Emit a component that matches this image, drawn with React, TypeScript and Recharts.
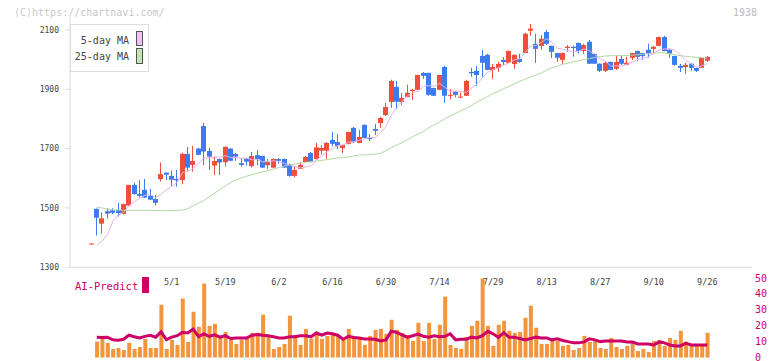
import { ComposedChart, Bar, Line, XAxis, YAxis } from "recharts"

// trading days shown on the chart
const dates = [
  "4/9", "4/10", "4/11", "4/14", "4/15", "4/16", "4/17", "4/18", "4/21", "4/22", "4/23", "4/24", "4/25", "4/28", "4/30",
  "5/1", "5/2", "5/7", "5/8", "5/9", "5/12", "5/13", "5/14", "5/15", "5/16", "5/19", "5/20", "5/21", "5/22", "5/23",
  "5/26", "5/27", "5/28", "5/29", "5/30",
  "6/2", "6/3", "6/4", "6/5", "6/6", "6/9", "6/10", "6/11", "6/12", "6/13", "6/16", "6/17", "6/18", "6/19", "6/20",
  "6/23", "6/24", "6/25", "6/26", "6/27", "6/30",
  "7/1", "7/2", "7/3", "7/4", "7/7", "7/8", "7/9", "7/10", "7/11", "7/14", "7/15", "7/16", "7/17", "7/18", "7/22",
  "7/23", "7/24", "7/25", "7/28", "7/29", "7/30", "7/31",
  "8/1", "8/4", "8/5", "8/6", "8/7", "8/8", "8/12", "8/13", "8/14", "8/15", "8/18", "8/19", "8/20", "8/21", "8/22",
  "8/25", "8/26", "8/27", "8/28", "8/29",
  "9/1", "9/2", "9/3", "9/4", "9/5", "9/8", "9/9", "9/10", "9/11", "9/12", "9/16", "9/17", "9/18", "9/19", "9/22",
  "9/24", "9/25", "9/26",
]

const tickDates = ["5/1", "5/19", "6/2", "6/16", "6/30", "7/14", "7/29", "8/13", "8/27", "9/10", "9/26"]
const priceTicks = [1300, 1500, 1700, 1900, 2100]
const gridTicks = [0, 1, 2, 3, 4, 5, 6, 7, 8, 9, 10, 11]
const predictTicks = [0, 10, 20, 30, 40, 50]

const opens = [
  1378, 1497, 1447, 1489, 1492, 1493, 1480, 1508, 1577, 1547, 1561, 1541, 1530, 1597, 1619, 1608, 1598, 1594, 1682, 1645,
  1700, 1776, 1692, 1643, 1665, 1654, 1700, 1682, 1651, 1665, 1641, 1678, 1675, 1644, 1636, 1665, 1665, 1648, 1608, 1632,
  1655, 1685, 1665, 1693, 1693, 1729, 1722, 1702, 1716, 1770, 1719, 1780, 1736, 1766, 1786, 1813, 1857, 1908, 1857, 1874,
  1894, 1898, 1955, 1955, 1904, 1898, 1975, 1878, 1891, 1873, 1878, 1958, 1962, 2012, 2016, 1965, 1972, 1999, 1989, 1985,
  2002, 2022, 2097, 2053, 2046, 2093, 2046, 2022, 1999, 2039, 2043, 2056, 2029, 2060, 2019, 1986, 1962, 1992, 1969, 2002,
  1982, 2006, 2029, 2022, 2033, 2036, 2046, 2076, 2033, 2012, 1979, 1975, 1986, 1972, 1972, 1996,
]
const highs = [
  1380, 1498, 1485, 1499, 1499, 1517, 1515, 1578, 1585, 1594, 1598, 1564, 1544, 1653, 1620, 1626, 1628, 1686, 1705, 1709,
  1703, 1786, 1703, 1673, 1666, 1707, 1701, 1686, 1666, 1668, 1689, 1695, 1676, 1665, 1666, 1668, 1666, 1650, 1641, 1654,
  1675, 1689, 1719, 1712, 1722, 1756, 1749, 1713, 1757, 1773, 1763, 1781, 1749, 1783, 1807, 1854, 1932, 1928, 1887, 1915,
  1901, 1949, 1958, 1956, 1905, 1949, 1979, 1901, 1894, 1888, 1932, 1972, 1979, 2033, 2019, 1985, 1992, 2009, 2030, 2017,
  2019, 2090, 2120, 2087, 2083, 2100, 2047, 2023, 2023, 2049, 2046, 2057, 2053, 2066, 2020, 1987, 1992, 1993, 2012, 2012,
  2009, 2023, 2030, 2023, 2053, 2046, 2077, 2080, 2034, 2013, 1985, 1989, 1987, 1973, 2007, 2012,
]
const lows = [
  1376, 1407, 1413, 1465, 1479, 1471, 1478, 1505, 1544, 1535, 1533, 1526, 1508, 1589, 1594, 1572, 1572, 1581, 1625, 1622,
  1677, 1645, 1628, 1611, 1611, 1639, 1657, 1659, 1639, 1643, 1636, 1644, 1634, 1632, 1634, 1649, 1634, 1605, 1602, 1631,
  1654, 1653, 1663, 1680, 1666, 1707, 1698, 1685, 1714, 1718, 1718, 1735, 1726, 1746, 1770, 1810, 1837, 1833, 1846, 1873,
  1864, 1897, 1935, 1878, 1877, 1897, 1854, 1866, 1873, 1872, 1877, 1942, 1911, 1942, 1964, 1935, 1958, 1982, 1988, 1969,
  1989, 2021, 2080, 1989, 2033, 2049, 2006, 1992, 1986, 2026, 2010, 2020, 2019, 1985, 1985, 1958, 1958, 1964, 1965, 1982,
  1981, 1999, 1996, 1999, 2006, 2022, 2045, 2028, 2006, 1979, 1958, 1952, 1962, 1958, 1971, 1992,
]
const closes = [
  1380, 1467, 1465, 1481, 1484, 1483, 1513, 1577, 1547, 1541, 1535, 1528, 1517, 1614, 1612, 1595, 1593, 1682, 1636, 1658,
  1679, 1690, 1673, 1658, 1653, 1706, 1659, 1673, 1645, 1656, 1675, 1664, 1636, 1655, 1665, 1659, 1636, 1608, 1628, 1645,
  1672, 1655, 1704, 1702, 1719, 1716, 1709, 1712, 1756, 1722, 1739, 1736, 1732, 1760, 1803, 1840, 1928, 1858, 1871, 1888,
  1898, 1948, 1945, 1881, 1878, 1948, 1878, 1881, 1881, 1875, 1928, 1954, 1948, 1989, 1965, 1975, 1985, 1992, 2029, 2016,
  1992, 2087, 2104, 2036, 2070, 2053, 2026, 2006, 2022, 2043, 2039, 2029, 2049, 1986, 1986, 1962, 1989, 1965, 1992, 1986,
  1989, 2022, 2009, 2012, 2019, 2043, 2076, 2029, 2019, 1982, 1972, 1982, 1972, 1962, 2006, 2009,
]
const ma5 = [
  null, 1375, 1388, 1410, 1455, 1476, 1485, 1508, 1521, 1532, 1543, 1546, 1534, 1547, 1561, 1573, 1586, 1619, 1624, 1633,
  1650, 1669, 1667, 1672, 1671, 1676, 1670, 1670, 1667, 1668, 1662, 1663, 1655, 1657, 1659, 1656, 1650, 1645, 1639, 1635,
  1638, 1642, 1661, 1676, 1690, 1699, 1710, 1712, 1722, 1723, 1728, 1733, 1737, 1738, 1754, 1774, 1813, 1838, 1860, 1877,
  1889, 1893, 1910, 1912, 1910, 1920, 1906, 1893, 1893, 1893, 1889, 1904, 1917, 1939, 1957, 1966, 1972, 1981, 1989, 1999,
  2003, 2023, 2046, 2047, 2058, 2070, 2058, 2038, 2035, 2030, 2027, 2028, 2036, 2029, 2018, 2002, 1994, 1978, 1979, 1979,
  1984, 1991, 2000, 2004, 2010, 2021, 2032, 2036, 2037, 2030, 2016, 1997, 1985, 1974, 1979, 1986,
]
const ma25 = [
  null, 1502, 1500, 1496, 1494, 1493, 1492, 1492, 1492, 1492, 1492, 1492, 1491, 1491, 1491, 1491, 1492, 1493, 1497, 1508,
  1516, 1525, 1538, 1550, 1562, 1574, 1585, 1594, 1601, 1607, 1612, 1617, 1621, 1626, 1631, 1636, 1641, 1645, 1648, 1651,
  1654, 1656, 1658, 1660, 1663, 1666, 1668, 1670, 1672, 1675, 1678, 1679, 1680, 1681, 1684, 1693, 1703, 1712, 1720, 1730,
  1740, 1749, 1758, 1770, 1780, 1790, 1800, 1810, 1818, 1828, 1836, 1846, 1857, 1866, 1875, 1886, 1893, 1902, 1910, 1918,
  1927, 1934, 1941, 1948, 1955, 1964, 1972, 1978, 1984, 1988, 1992, 1996, 2000, 2003, 2007, 2010, 2012, 2013, 2013, 2014,
  2014, 2015, 2016, 2018, 2020, 2022, 2023, 2022, 2020, 2016, 2013, 2011, 2009, 2007, 2006, 2005,
]
const volumes = [
  null, 10.0, 13.6, 9.2, 5.4, 6.0, 4.7, 9.2, 5.4, 6.6, 11.7, 6.0, 6.0, 33.2, 5.4, 11.1, 7.9, 37.0, 9.8, 28.8,
  19.3, 46.5, 19.9, 21.2, 13.0, 16.1, 11.1, 8.5, 11.1, 11.7, 15.5, 15.5, 26.9, 14.2, 5.4, 6.6, 8.5, 26.3, 14.2, 7.9,
  18.0, 11.7, 16.1, 11.7, 13.6, 14.9, 14.2, 11.1, 18.0, 13.6, 11.7, 7.9, 13.6, 17.4, 18.0, 14.9, 23.7, 17.4, 15.5, 14.0,
  10.4, 21.8, 10.4, 21.8, 11.7, 20.6, 38.3, 7.9, 6.0, 5.4, 13.0, 19.9, 23.1, 49.7, 19.9, 7.3, 20.6, 23.1, 16.8, 15.5,
  16.1, 25.0, 32.6, 18.7, 8.5, 8.5, 11.7, 10.4, 7.3, 7.9, 4.7, 6.0, 13.6, 9.8, 11.7, 6.0, 5.4, 12.3, 6.6, 5.4,
  7.3, 10.4, 4.1, 5.4, 3.5, 10.4, 11.1, 7.3, 12.3, 11.1, 16.8, 9.8, 7.3, 7.3, 7.3, 15.5,
]
const aiPredict = [
  null, 12.8, 12.6, 12.8, 11.1, 10.9, 11.5, 14.0, 13.1, 12.3, 13.3, 14.0, 12.8, 16.1, 11.3, 12.8, 13.7, 15.8, 15.4, 17.9,
  13.1, 14.9, 13.3, 14.3, 12.8, 13.7, 11.9, 12.3, 12.3, 12.3, 14.0, 14.4, 14.0, 13.7, 13.1, 12.3, 12.3, 13.0, 13.0, 13.7,
  13.7, 13.0, 15.4, 14.0, 15.4, 14.9, 14.0, 11.5, 13.3, 12.6, 12.3, 11.7, 11.7, 11.5, 10.4, 11.1, 16.5, 15.8, 14.3, 12.8,
  13.7, 14.7, 13.3, 12.8, 13.7, 13.1, 13.3, 14.9, 11.1, 11.5, 11.5, 12.8, 12.3, 13.7, 16.5, 14.9, 12.6, 15.6, 12.8, 12.8,
  11.9, 11.1, 11.9, 12.8, 12.3, 12.3, 11.1, 11.7, 10.7, 10.0, 9.2, 9.2, 9.8, 11.7, 11.1, 10.0, 10.4, 10.4, 10.4, 10.4,
  9.8, 9.8, 8.5, 8.5, 8.5, 7.9, 9.8, 9.2, 7.9, 7.3, 7.3, 9.0, 7.9, 7.9, 7.9, 7.9,
]

const RED = "#f04e3c"
const BLUE = "#3e7bef"
const PINK = "#e6b0e8"
const GREEN = "#b0d8a2"
const ORANGE = "#f2953c"
const CRIMSON = "#cc0066"
const AXIS = "#dcdcdc"
const MONO = "'DejaVu Sans Mono', monospace"

const xDomain: [number, number] = [-4, 123.35]

const priceData = dates.map((d, i) => ({
  idx: i,
  date: d,
  open: opens[i],
  high: highs[i],
  low: lows[i],
  close: closes[i],
  range: [lows[i], highs[i]],
  ma5: ma5[i],
  ma25: ma25[i],
}))

const predictData = dates.map((d, i) => ({ idx: i, date: d, vol: volumes[i], ai: aiPredict[i] }))

const tickIdx = tickDates.map((d) => dates.indexOf(d))

function Candle(props: any) {
  const { x, y, width, height, payload } = props
  if (payload == null || height == null) return null
  const { open, close, high, low } = payload
  const color = close >= open ? RED : BLUE
  const ratio = height / (high - low)
  const yOf = (v: number) => y + (high - v) * ratio
  const left = Math.round(x + width / 2 - 2.5)
  const top = yOf(Math.max(open, close))
  const bottom = yOf(Math.min(open, close))
  return (
    <g>
      <rect x={left + 2} y={y} width={1} height={Math.max(1, height)} fill={color} />
      <rect x={left} y={top} width={5} height={Math.max(1, bottom - top)} fill={color} />
    </g>
  )
}

export default function App() {
  return (
    <div style={{ position: "absolute", left: 0, top: 0, width: 772, height: 361, background: "#fff", overflow: "hidden" }}>
      {/* price panel: candles, moving averages, date labels */}
      <div style={{ position: "absolute", left: 0, top: 0 }}>
        <ComposedChart width={772} height={292} data={priceData} margin={{ top: 18, right: 20, bottom: 22.7, left: 10 }}>
          <XAxis
            xAxisId="grid"
            type="number"
            domain={[0, 11]}
            ticks={gridTicks}
            tick={false}
            tickSize={6}
            height={1}
            stroke={AXIS}
            allowDataOverflow
          />
          <XAxis
            xAxisId="idx"
            dataKey="idx"
            type="number"
            domain={xDomain}
            allowDataOverflow
            ticks={tickIdx}
            interval={0}
            tickFormatter={(v: number) => dates[v] ?? ""}
            axisLine={false}
            tickLine={false}
            tickSize={0}
            tickMargin={11}
            height={1}
            tick={{ fill: "#444", fontSize: 8.5, fontFamily: MONO }}
          />
          <YAxis
            yAxisId="price"
            domain={[1300, 2140]}
            allowDataOverflow
            ticks={priceTicks}
            interval={0}
            width={60}
            tickSize={5}
            tickMargin={6}
            stroke={AXIS}
            tick={{ fill: "#444", fontSize: 8, fontFamily: MONO }}
          />
          <Line xAxisId="idx" yAxisId="price" dataKey="ma25" stroke={GREEN} strokeWidth={1} dot={false} isAnimationActive={false} />
          <Line xAxisId="idx" yAxisId="price" dataKey="ma5" stroke={PINK} strokeWidth={1} dot={false} isAnimationActive={false} />
          <Bar xAxisId="idx" yAxisId="price" dataKey="range" barSize={5} shape={Candle} isAnimationActive={false} />
        </ComposedChart>
      </div>
      {/* AI-Predict panel */}
      <div style={{ position: "absolute", left: 0, top: 0 }}>
        <ComposedChart width={772} height={361} data={predictData} margin={{ top: 278, right: 0, bottom: 3.5, left: 70 }}>
          <XAxis dataKey="idx" type="number" domain={xDomain} allowDataOverflow hide />
          <YAxis
            orientation="right"
            domain={[0, 50]}
            ticks={predictTicks}
            width={20}
            axisLine={false}
            tickLine={false}
            tickSize={0}
            tickMargin={3}
            interval={0}
            tick={{ fill: CRIMSON, fontSize: 10, fontFamily: MONO }}
          />
          <Bar dataKey="vol" fill={ORANGE} barSize={4} isAnimationActive={false} />
          <Line dataKey="ai" stroke={CRIMSON} strokeWidth={3} dot={false} isAnimationActive={false} />
        </ComposedChart>
      </div>
      <svg width={772} height={361} style={{ position: "absolute", left: 0, top: 0, pointerEvents: "none" }} fontFamily={MONO}>
        <text x={14} y={15.5} fontSize={10} fill="#c8c8c8">(C)https://chartnavi.com/</text>
        <text x={757} y={15.5} fontSize={10} fill="#bbbbbb" textAnchor="end">1938</text>
        <rect x={70.5} y={24.5} width={78} height={47} fill="#fff" stroke="#dddddd" />
        <text x={129} y={43.5} fontSize={10} fill="#444" textAnchor="end">5-day MA</text>
        <rect x={136.5} y={31.5} width={6} height={14} fill="#f0c0f0" stroke="#555" />
        <text x={129} y={60} fontSize={10} fill="#444" textAnchor="end">25-day MA</text>
        <rect x={136.5} y={48.5} width={6} height={15} fill="#c4e4b4" stroke="#555" />
        <text x={75} y={290} fontSize={10.5} fill={CRIMSON}>AI-Predict</text>
        <rect x={142} y={277} width={7} height={16} fill={CRIMSON} />
      </svg>
    </div>
  )
}
